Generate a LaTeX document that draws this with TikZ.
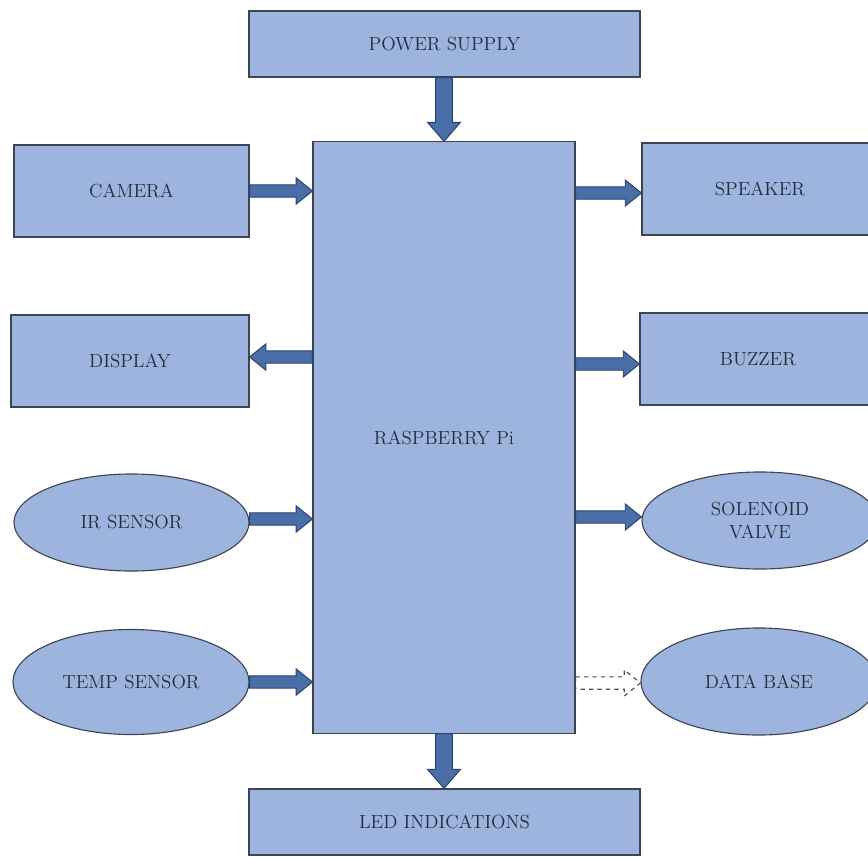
\documentclass[tikz,border=0pt]{standalone}
\usetikzlibrary{calc,shapes.geometric}
\definecolor{boxblue}{RGB}{157,180,222}
\definecolor{arrowblue}{RGB}{74,110,168}
\definecolor{arrowline}{RGB}{44,66,110}
\definecolor{edgegray}{RGB}{62,68,84}
\definecolor{textgray}{RGB}{38,44,58}
\tikzset{
  block/.style={rectangle, draw=edgegray, fill=boxblue, line width=0.8pt,
    inner sep=0pt, text=textgray, align=center,
    font=\fontsize{13.5}{16}\selectfont},
  oval/.style={block, ellipse},
  shaft half/.store in=\bashaft, shaft half=4.4pt,
  head half/.store in=\bahead, head half=9.3pt,
  head len/.store in=\balen, head len=11.5pt,
  bigarrow/.style={fill=arrowblue, draw=arrowline, line width=0.7pt, line join=miter},
  dasharrow/.style={draw=textgray!85, dashed, line width=0.8pt},
  downarrow/.style={bigarrow, shaft half=6pt, head half=11.7pt, head len=13.5pt},
}
% block arrow from #2 to #3
\newcommand{\blockarrow}[3][bigarrow]{%
  \begin{scope}[#1]
  \coordinate (ba-s) at (#2);
  \coordinate (ba-e) at (#3);
  \coordinate (ba-m) at ($(ba-e)!\balen!(ba-s)$);
  \draw[#1] ($(ba-s)!\bashaft!90:(ba-e)$) -- ($(ba-m)!\bashaft!90:(ba-e)$)
    -- ($(ba-m)!\bahead!90:(ba-e)$) -- (ba-e) -- ($(ba-m)!\bahead!-90:(ba-e)$)
    -- ($(ba-m)!\bashaft!-90:(ba-e)$) -- ($(ba-s)!\bashaft!-90:(ba-e)$) -- cycle;
  \end{scope}
}

\begin{document}
\begin{tikzpicture}[x=0.025cm,y=-0.025cm]
    \useasboundingbox (0,0) rectangle (868,856);
    \clip (0,0) rectangle (868,856);
    % centre
    \node[block, minimum width=6.55cm, minimum height=14.775cm] (rpi) at (444,437.5) {RASPBERRY Pi};
    \node[block, minimum width=9.775cm, minimum height=1.65cm] (power) at (444.5,44) {POWER SUPPLY};
    \node[block, minimum width=9.775cm, minimum height=1.65cm] (led) at (444.5,822) {LED INDICATIONS};
    % left side
    \node[block, minimum width=5.875cm, minimum height=2.3cm] (camera) at (131.5,191) {CAMERA};
    \node[block, minimum width=5.95cm, minimum height=2.3cm] (display) at (130,361) {DISPLAY};
    \node[oval, minimum width=5.875cm, minimum height=2.425cm] (ir) at (131.5,522.5) {IR SENSOR};
    \node[oval, minimum width=5.9cm, minimum height=2.625cm] (temp) at (131,682) {TEMP SENSOR};
    % right side
    \node[block, minimum width=5.9cm, minimum height=2.3cm] (speaker) at (760,189) {SPEAKER};
    \node[block, minimum width=5.9cm, minimum height=2.3cm] (buzzer) at (758,359) {BUZZER};
    \node[oval, minimum width=5.9cm, minimum height=2.425cm] (valve) at (760,520.5) {SOLENOID\\VALVE};
    \node[oval, minimum width=5.9cm, minimum height=2.675cm] (db) at (759,681.5) {DATA BASE};
    % arrows
    \blockarrow[downarrow]{power.south -| rpi.north}{rpi.north}
    \blockarrow[downarrow]{rpi.south}{rpi.south |- led.north}
    \blockarrow{camera.east}{camera.east -| rpi.west}
    \blockarrow{$(rpi.west)+(0,-80.5)$}{$(display.east)+(0,-4)$}
    \blockarrow{$(ir.east)+(0,-3.5)$}{$(ir.east -| rpi.west)+(0,-3.5)$}
    \blockarrow{temp.east}{temp.east -| rpi.west}
    \blockarrow{$(rpi.east |- speaker.west)+(0,4)$}{$(speaker.west)+(0,4)$}
    \blockarrow{$(rpi.east |- buzzer.west)+(0,5)$}{$(buzzer.west)+(0,5)$}
    \blockarrow{$(rpi.east |- valve.west)+(0,-3.5)$}{$(valve.west)+(0,-3.5)$}
    \blockarrow[dasharrow]{$(rpi.east |- db.west)+(0,1.5)$}{$(db.west)+(0,1.5)$}
\end{tikzpicture}
\end{document}
